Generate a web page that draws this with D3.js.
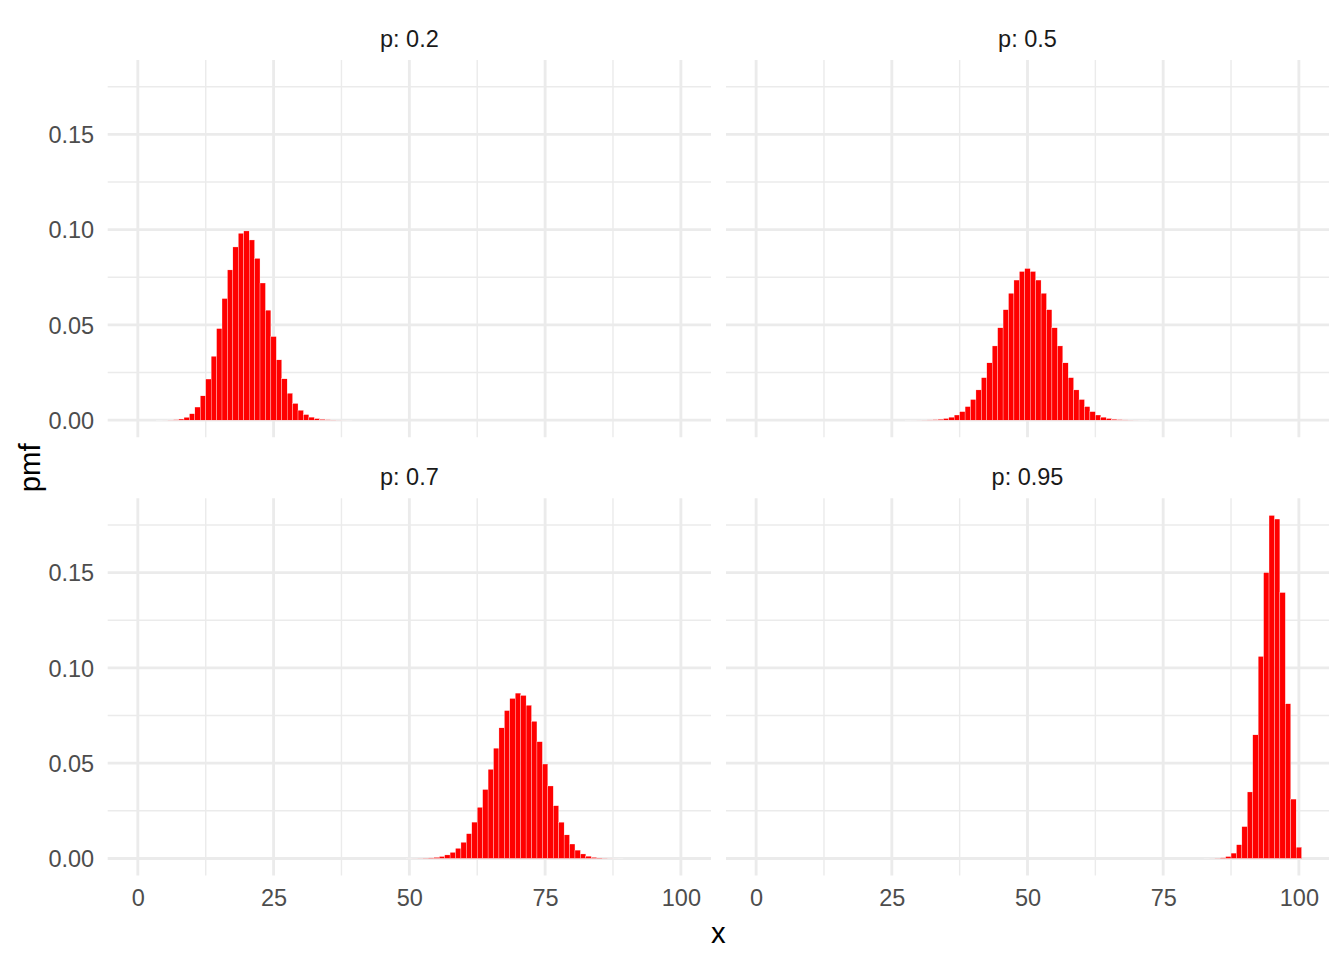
<!DOCTYPE html>
<html>
<head>
<meta charset="utf-8">
<script src="https://cdn.jsdelivr.net/npm/d3@7"></script>
<style>
  html, body { margin: 0; padding: 0; background: #fff; }
  svg { display: block; font-family: "Liberation Sans", Arial, Helvetica, sans-serif; }
</style>
</head>
<body>
<svg id="chart" width="1344" height="960"></svg>
<script>
// ---- data (binomial pmf, n = 100) ----
const panelLabels = ["p: 0.2", "p: 0.5", "p: 0.7", "p: 0.95"];
const panelStarts = [4, 28, 50, 83];   // first x value of each series

const pmf02 = [0.0000032, 0.0000153, 0.0000594, 0.000199, 0.000579, 0.00148, 0.00336, 0.00688,
  0.01275, 0.02158, 0.03353, 0.04806, 0.06383, 0.07885, 0.09090, 0.09807, 0.09930, 0.09457,
  0.08490, 0.07198, 0.05773, 0.04388, 0.03164, 0.02168, 0.01413, 0.00877, 0.00519, 0.00293,
  0.00158, 0.00081, 0.00040, 0.000189, 0.0000853, 0.0000369, 0.0000153, 0.0000061];

const pmf05 = [0.0000040, 0.0000098, 0.0000231, 0.0000522, 0.000113, 0.000232, 0.000458, 0.000863,
  0.001559, 0.00270, 0.00447, 0.00711, 0.01084, 0.01587, 0.02229, 0.03007, 0.03895, 0.04847,
  0.05796, 0.06659, 0.07353, 0.07803, 0.07959, 0.07803, 0.07353, 0.06659, 0.05796, 0.04847,
  0.03895, 0.03007, 0.02229, 0.01587, 0.01084, 0.00711, 0.00447, 0.00270, 0.001559, 0.000863,
  0.000458, 0.000232, 0.000113, 0.0000522, 0.0000231, 0.0000098, 0.0000040];

const pmf07 = [0.0000131, 0.0000299, 0.0000658, 0.000139, 0.000282, 0.00055, 0.00103, 0.00185,
  0.00320, 0.00532, 0.00849, 0.01299, 0.01907, 0.02684, 0.03620, 0.04678, 0.05788, 0.06854,
  0.07761, 0.08398, 0.08678, 0.08556, 0.08041, 0.07197, 0.06127, 0.04956, 0.03804, 0.02767,
  0.01904, 0.01237, 0.00758, 0.00437, 0.00236, 0.00119, 0.000562, 0.000247, 0.000100,
  0.0000377, 0.0000130, 0.0000041];

const pmf095 = [0.0000072, 0.0000276, 0.0000988, 0.000327, 0.001001, 0.00281, 0.00720, 0.01672,
  0.03490, 0.06487, 0.10603, 0.15002, 0.18002, 0.17814, 0.13957, 0.08118, 0.03116, 0.00592];

const xTicks = [0, 25, 50, 75, 100];
const xMinor = [12.5, 37.5, 62.5, 87.5];
const yTicks = [0, 0.05, 0.10, 0.15];
const yMinor = [0.025, 0.075, 0.125, 0.175];

// ---- layout ----
const svg = d3.select("#chart");
const colX = [[107.7, 711], [726, 1329]];
const rowY = [[60, 437.3], [498.3, 875.6]];

const series = [pmf02, pmf05, pmf07, pmf095].map((vals, i) =>
  vals.map((v, j) => ({ x: panelStarts[i] + j, y: v })));

const yMax = d3.max(series.flat(), d => d.y);
const yPad = yMax * 0.05;
const xLo = -0.5, xHi = 100.5, xPad = (xHi - xLo) * 0.05;

const gridCol = "#EBEBEB";
const fs = 23.5;

series.forEach((data, i) => {
  const c = i % 2, r = Math.floor(i / 2);
  const x = d3.scaleLinear().domain([xLo - xPad, xHi + xPad]).range(colX[c]);
  const y = d3.scaleLinear().domain([-yPad, yMax + yPad]).range([rowY[r][1], rowY[r][0]]);
  const g = svg.append("g");

  // minor grid
  g.selectAll(".vmin").data(xMinor).join("line")
    .attr("x1", d => x(d)).attr("x2", d => x(d))
    .attr("y1", rowY[r][0]).attr("y2", rowY[r][1])
    .attr("stroke", gridCol).attr("stroke-width", 1.42);
  g.selectAll(".hmin").data(yMinor).join("line")
    .attr("x1", colX[c][0]).attr("x2", colX[c][1])
    .attr("y1", d => y(d)).attr("y2", d => y(d))
    .attr("stroke", gridCol).attr("stroke-width", 1.42);
  // major grid
  g.selectAll(".vmaj").data(xTicks).join("line")
    .attr("x1", d => x(d)).attr("x2", d => x(d))
    .attr("y1", rowY[r][0]).attr("y2", rowY[r][1])
    .attr("stroke", gridCol).attr("stroke-width", 2.85);
  g.selectAll(".hmaj").data(yTicks).join("line")
    .attr("x1", colX[c][0]).attr("x2", colX[c][1])
    .attr("y1", d => y(d)).attr("y2", d => y(d))
    .attr("stroke", gridCol).attr("stroke-width", 2.85);

  // bars
  g.selectAll("rect").data(data).join("rect")
    .attr("x", d => x(d.x - 0.5))
    .attr("width", d => x(d.x + 0.5) - x(d.x - 0.5))
    .attr("y", d => y(d.y))
    .attr("height", d => y(0) - y(d.y))
    .attr("fill", "#FF0000")
    .attr("stroke", "#FFFFFF")
    .attr("stroke-width", 0.3);

  // strip label
  svg.append("text")
    .attr("x", (colX[c][0] + colX[c][1]) / 2)
    .attr("y", rowY[r][0] - 21)
    .attr("text-anchor", "middle")
    .attr("dominant-baseline", "central")
    .attr("font-size", fs)
    .attr("fill", "#1A1A1A")
    .text(panelLabels[i]);

  // axes (labels only)
  if (c === 0) {
    const ax = svg.append("g")
      .attr("transform", `translate(${colX[c][0]},0)`)
      .call(d3.axisLeft(y).tickValues(yTicks).tickFormat(d3.format(".2f")).tickSize(0).tickPadding(13.5));
    ax.select(".domain").remove();
    ax.selectAll("text").attr("font-size", fs).attr("fill", "#4D4D4D")
      .attr("dy", "0.35em")
      .attr("font-family", "Liberation Sans, Arial, sans-serif");
  }
  if (r === 1) {
    const ax = svg.append("g")
      .attr("transform", `translate(0,${rowY[r][1]})`)
      .call(d3.axisBottom(x).tickValues(xTicks).tickFormat(d3.format("d")).tickSize(0).tickPadding(14));
    ax.select(".domain").remove();
    ax.selectAll("text").attr("font-size", fs).attr("fill", "#4D4D4D")
      .attr("font-family", "Liberation Sans, Arial, sans-serif");
  }
});

// axis titles
svg.append("text")
  .attr("x", (colX[0][0] + colX[1][1]) / 2)
  .attr("y", 932)
  .attr("text-anchor", "middle")
  .attr("dominant-baseline", "central")
  .attr("font-size", 29.3)
  .attr("fill", "#000")
  .text("x");

svg.append("text")
  .attr("transform", `translate(29,${(rowY[0][0] + rowY[1][1]) / 2}) rotate(-90)`)
  .attr("text-anchor", "middle")
  .attr("dominant-baseline", "central")
  .attr("font-size", 29.3)
  .attr("fill", "#000")
  .text("pmf");
</script>
</body>
</html>
